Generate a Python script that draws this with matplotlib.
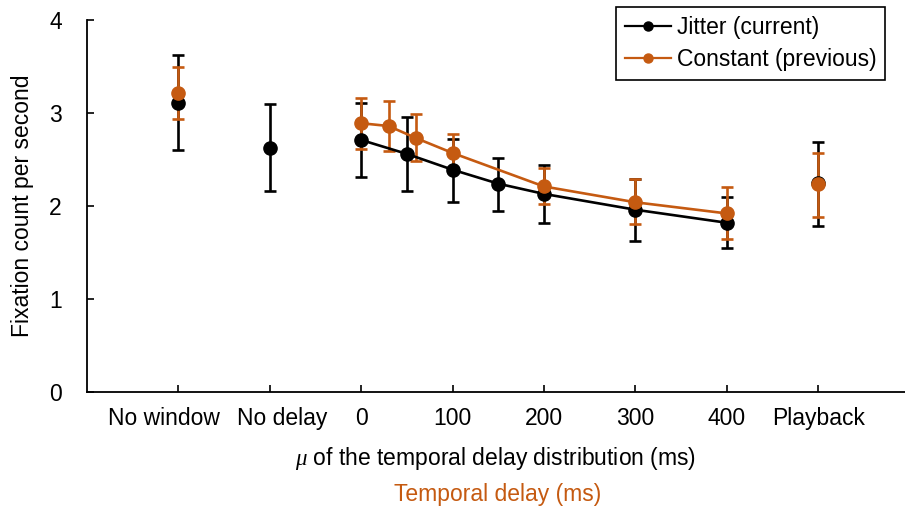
import numpy as np
import matplotlib
matplotlib.use("Agg")
import matplotlib.pyplot as plt
import matplotlib.transforms as mtransforms

# category positions on the delay axis (ms); "No window", "No delay", "Playback" sit outside 0-400
tick_pos = [-200, -100, 0, 100, 200, 300, 400, 500]
tick_labels = ["No window", "No delay", "0", "100", "200", "300", "400", "Playback"]

jitter_x = [-200, -100, 0, 50, 100, 150, 200, 300, 400, 500]
jitter_y = [3.11, 2.62, 2.71, 2.56, 2.39, 2.24, 2.13, 1.96, 1.82, 2.25]
jitter_hi = [3.62, 3.10, 3.11, 2.96, 2.72, 2.52, 2.44, 2.29, 2.10, 2.69]
jitter_lo = [2.60, 2.16, 2.31, 2.16, 2.04, 1.95, 1.82, 1.62, 1.55, 1.79]

constant_x = [-200, 0, 30, 60, 100, 200, 300, 400, 500]
constant_y = [3.21, 2.89, 2.86, 2.73, 2.57, 2.21, 2.04, 1.92, 2.24]
constant_hi = [3.49, 3.16, 3.13, 2.99, 2.77, 2.41, 2.29, 2.20, 2.57]
constant_lo = [2.94, 2.61, 2.59, 2.48, 2.40, 2.02, 1.81, 1.65, 1.88]

orange = "#C55A11"
plt.rcParams['font.family'] = ['Liberation Sans', 'DejaVu Sans']
plt.rcParams['mathtext.fontset'] = 'custom'
plt.rcParams['mathtext.it'] = 'Liberation Serif:italic'
plt.rcParams['font.size'] = 16.5

fig = plt.figure(figsize=(9.05, 5.14), dpi=100)
ax = fig.add_axes([87/905, 1-392/514, 1-87/905, (392-20)/514])


def draw(x, y, hi, lo, color, label, zerr, zline):
    x = np.array(x); y = np.array(y)
    yerr = [y - np.array(lo), np.array(hi) - y]
    ax.errorbar(x, y, yerr=yerr, fmt='none', ecolor=color, elinewidth=1.9,
                capsize=4.5, capthick=1.9, zorder=zerr)
    inner = (x >= 0) & (x <= 400)
    ax.plot(x[inner], y[inner], '-', color=color, lw=1.9, zorder=zline)
    ax.plot(x, y, 'o', color=color, ms=9.5, zorder=zline + 0.1)
    # legend proxy
    ax.plot([], [], '-o', color=color, lw=1.6, ms=6.5, label=label)


draw(jitter_x, jitter_y, jitter_hi, jitter_lo, 'black', 'Jitter (current)', 2, 3)
draw(constant_x, constant_y, constant_hi, constant_lo, orange, 'Constant (previous)', 2.5, 4)

ax.set_xlim(-300, 595)
ax.set_ylim(0, 4)
ax.set_yticks([0, 1, 2, 3, 4])
ax.set_xticks(tick_pos)
ax.set_xticklabels(tick_labels)
ax.tick_params(axis='both', direction='in', length=5, width=1.2)
ax.tick_params(axis='x', pad=11)
ax.tick_params(axis='y', pad=18)
# nudge the two crowded labels apart, as in the source figure
ticklabs = ax.get_xticklabels()
ticklabs[0].set_transform(ticklabs[0].get_transform() +
                          mtransforms.ScaledTranslation(-14/100, 0, fig.dpi_scale_trans))
ticklabs[1].set_transform(ticklabs[1].get_transform() +
                          mtransforms.ScaledTranslation(12/100, 0, fig.dpi_scale_trans))
for s in ['top', 'right']:
    ax.spines[s].set_visible(False)
for s in ['left', 'bottom']:
    ax.spines[s].set_linewidth(1.3)

ax.set_ylabel('Fixation count per second')
ax.yaxis.set_label_coords(-53/818, 0.5)
ax.set_xlabel(r'$\mu$ of the temporal delay distribution (ms)')
ax.xaxis.set_label_coords(0.5, (392-445)/372)
fig.text(498/905, 1-495/514, 'Temporal delay (ms)', color=orange,
         ha='center', va='center')

leg = ax.legend(loc='upper right', bbox_to_anchor=(0.976, 1.035), fancybox=False,
                edgecolor='black', framealpha=1, handlelength=2.0, borderpad=0.4,
                labelspacing=0.4, handletextpad=0.25, borderaxespad=0)
leg.get_frame().set_linewidth(1.2)

fig.savefig('out.png', dpi=100)
